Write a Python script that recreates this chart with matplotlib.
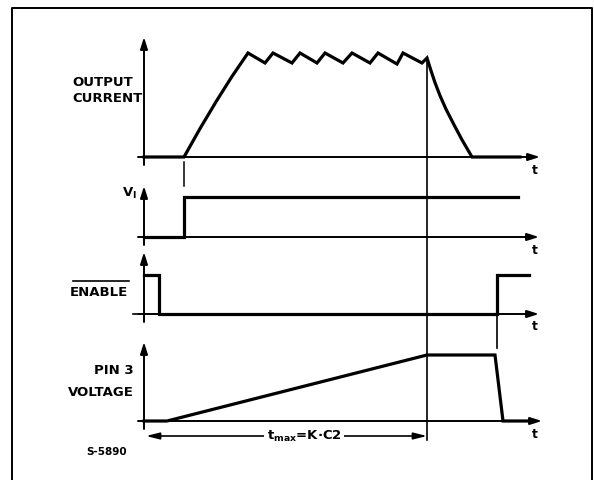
import matplotlib
matplotlib.use("Agg")
import matplotlib.pyplot as plt

# time axis (arbitrary units, origin at the vertical axes)
T_MAX = 283      # t_max = K * C2
T_OFF = 353      # ENABLE goes high again

# output current: rise, ripple, fall
cur_t = [0, 40, 56, 72, 88, 104, 121, 129, 148, 156, 173, 181, 199, 208, 226,
         234, 253, 259, 278, 283, 287, 291, 296, 302, 310, 318, 328, 376]
cur_v = [0, 0, 0.273, 0.531, 0.775, 1.0, 0.904, 1.0, 0.904, 1.0, 0.904, 1.0, 0.904, 1.0, 0.904,
         1.0, 0.894, 1.0, 0.904, 0.952, 0.83, 0.715, 0.59, 0.46, 0.31, 0.165, 0.0, 0.0]

# input voltage V_I
vi_t = [0, 40, 40, 374]
vi_v = [0, 0, 1, 1]

# ENABLE (active low)
en_t = [0, 15, 15, 353, 353, 385]
en_v = [1, 1, 0, 0, 1, 1]

# pin 3 voltage (timing capacitor ramp)
p3_t = [0, 23, 283, 351, 359, 384]
p3_v = [0, 0, 1, 1, 0, 0]

W, H = 594, 480
X0 = 144          # pixel position of the vertical axes
XLIM = (-X0, W - X0)

fig = plt.figure(figsize=(W / 100, H / 100), dpi=100)

# frame axes in pixel coordinates (y down) for border, guides and labels
base = fig.add_axes([0, 0, 1, 1])
base.set_xlim(*XLIM)
base.set_ylim(H, 0)
base.axis("off")


def panel(baseline, unit):
    # axes whose level 0 sits on `baseline` px and level 1 is `unit` px higher
    ax = fig.add_axes([0, 0, 1, 1])
    ax.set_xlim(*XLIM)
    ax.set_ylim((baseline - H) / unit, baseline / unit)
    ax.axis("off")
    ax.patch.set_alpha(0)
    return ax


def arrow(ax, p0, p1, lw=1.4):
    ax.annotate("", xy=p1, xytext=p0,
                arrowprops=dict(arrowstyle="-|>,head_length=0.7,head_width=0.22",
                                lw=lw, color="black", shrinkA=0, shrinkB=0))


# (baseline px, unit px, y-axis tip px, x-axis tip t)
panels = [
    (157, 104, 37, 396, cur_t, cur_v),
    (237, 40, 186, 395, vi_t, vi_v),
    (314, 39, 252, 395, en_t, en_v),
    (421, 66, 342, 398, p3_t, p3_v),
]

for b, u, ytip, xtip, tt, vv in panels:
    ax = panel(b, u)
    # vertical axis with arrow
    arrow(ax, (0, -8 / u), (0, (b - ytip) / u))
    # horizontal time axis with arrow
    arrow(ax, (-6, 0), (xtip, 0))
    ax.plot(tt, vv, color="black", lw=2.3, solid_joinstyle="miter", zorder=3)
    base.text(391, b + 13, "t", fontsize=9, fontweight="bold",
              ha="center", va="center")

# small tick on ENABLE baseline
base.plot([-11, -7], [314, 314], color="black", lw=1.2)

# guide lines
base.plot([40, 40], [162, 186], color="black", lw=1.1)
base.plot([T_MAX, T_MAX], [60, 440], color="black", lw=1.2)
base.plot([T_OFF, T_OFF], [276, 348], color="black", lw=1.2)

# t_max dimension
base.annotate("", xy=(T_MAX, 436), xytext=(2, 436),
              arrowprops=dict(arrowstyle="<|-|>,head_length=0.8,head_width=0.2",
                              lw=1.2, color="black", shrinkA=0, shrinkB=0))
base.text(160, 436, r"$\mathbf{t_{max}}$=K·C2", fontsize=9.5, fontweight="bold",
          ha="center", va="center",
          bbox=dict(facecolor="white", edgecolor="none", pad=1.5))

# signal names
lab = dict(fontsize=9.5, fontweight="bold", va="center")
base.text(-72, 82, "OUTPUT", ha="left", **lab)
base.text(-72, 98, "CURRENT", ha="left", **lab)
base.text(-22, 193, r"$\mathbf{V_I}$", ha="left", **lab)
base.text(-74, 292, "ENABLE", ha="left", **lab)
base.plot([-71, -15], [281, 281], color="black", lw=1.2)
base.text(-10, 370, "PIN 3", ha="right", **lab)
base.text(-10, 392, "VOLTAGE", ha="right", **lab)
base.text(-58, 452, "S-5890", fontsize=7.5, fontweight="bold", ha="left", va="center")

# outer border (open at the bottom)
base.plot([12 - X0, 12 - X0, 592 - X0, 592 - X0], [H, 8, 8, H], color="black", lw=1.4)

fig.savefig("out.png", dpi=100)
